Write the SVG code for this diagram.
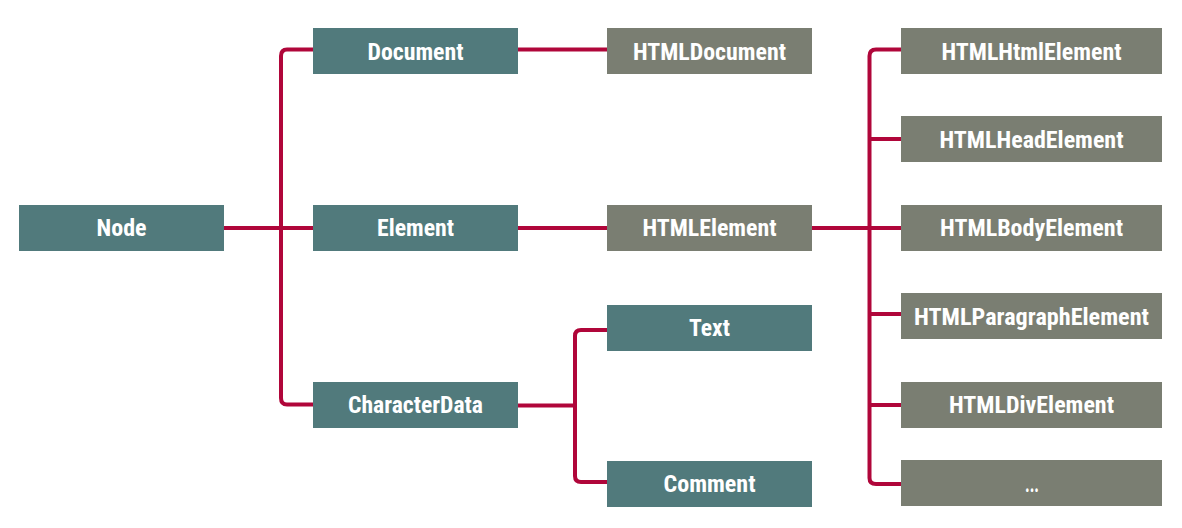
<svg xmlns="http://www.w3.org/2000/svg" width="1182" height="528" viewBox="0 0 1182 528">
<style>
.t{fill:#517a7c}
.g{fill:#7a7e72}
text{font-family:"Roboto Condensed",Roboto,"Liberation Sans",sans-serif;font-weight:bold;font-size:23px;fill:#ffffff;text-anchor:middle}
.c path{fill:none;stroke:#b0063a;stroke-width:4;stroke-linecap:butt;stroke-linejoin:round}
</style>
<rect width="1182" height="528" fill="#ffffff"/>
<g class="c" id="connectors">
<path d="M224 228 H313"/>
<path d="M313 49.5 H287 Q281 49.5 281 56 V398 Q281 404.5 287 404.5 H313"/>
<path d="M518 49.5 H607"/>
<path d="M518 228 H607"/>
<path d="M518 405.5 H575"/>
<path d="M607 330 H581 Q575 330 575 336 V476 Q575 482 581 482 H607"/>
<path d="M812 228 H901"/>
<path d="M901 49.5 H876 Q869.5 49.5 869.5 56 V478 Q869.5 484 876 484 H901"/>
<path d="M869.5 139 H901"/>
<path d="M869.5 314 H901"/>
<path d="M869.5 405 H901"/>
</g>
<g id="node-Node"><rect class="t" x="19" y="205" width="205" height="46"/><text x="121.5" y="236" textLength="50" lengthAdjust="spacingAndGlyphs">Node</text></g>
<g id="node-Document"><rect class="t" x="313" y="28" width="205" height="46"/><text x="415.5" y="59.5" textLength="96" lengthAdjust="spacingAndGlyphs">Document</text></g>
<g id="node-Element"><rect class="t" x="313" y="205" width="205" height="46"/><text x="415.5" y="236" textLength="77" lengthAdjust="spacingAndGlyphs">Element</text></g>
<g id="node-CharacterData"><rect class="t" x="313" y="382" width="205" height="46"/><text x="415.5" y="413" textLength="135" lengthAdjust="spacingAndGlyphs">CharacterData</text></g>
<g id="node-HTMLDocument"><rect class="g" x="607" y="28" width="205" height="46"/><text x="709.5" y="59.5" textLength="153" lengthAdjust="spacingAndGlyphs">HTMLDocument</text></g>
<g id="node-HTMLElement"><rect class="g" x="607" y="205" width="205" height="46"/><text x="709.5" y="236" textLength="134" lengthAdjust="spacingAndGlyphs">HTMLElement</text></g>
<g id="node-Text"><rect class="t" x="607" y="305" width="205" height="46"/><text x="709.5" y="336" textLength="41" lengthAdjust="spacingAndGlyphs">Text</text></g>
<g id="node-Comment"><rect class="t" x="607" y="461" width="205" height="46"/><text x="709.5" y="492" textLength="92" lengthAdjust="spacingAndGlyphs">Comment</text></g>
<g id="node-HTMLHtmlElement"><rect class="g" x="901" y="28" width="261" height="46"/><text x="1031.5" y="59.5" textLength="180" lengthAdjust="spacingAndGlyphs">HTMLHtmlElement</text></g>
<g id="node-HTMLHeadElement"><rect class="g" x="901" y="116" width="261" height="46"/><text x="1031.5" y="147.5" textLength="184" lengthAdjust="spacingAndGlyphs">HTMLHeadElement</text></g>
<g id="node-HTMLBodyElement"><rect class="g" x="901" y="205" width="261" height="46"/><text x="1031.5" y="236" textLength="183" lengthAdjust="spacingAndGlyphs">HTMLBodyElement</text></g>
<g id="node-HTMLParagraphElement"><rect class="g" x="901" y="293" width="261" height="46"/><text x="1031.5" y="324.5" textLength="235" lengthAdjust="spacingAndGlyphs">HTMLParagraphElement</text></g>
<g id="node-HTMLDivElement"><rect class="g" x="901" y="382" width="261" height="46"/><text x="1031.5" y="413" textLength="165" lengthAdjust="spacingAndGlyphs">HTMLDivElement</text></g>
<g id="node-more"><rect class="g" x="901" y="460" width="261" height="46"/><text x="1032" y="492" textLength="14" lengthAdjust="spacingAndGlyphs">...</text></g>
</svg>
